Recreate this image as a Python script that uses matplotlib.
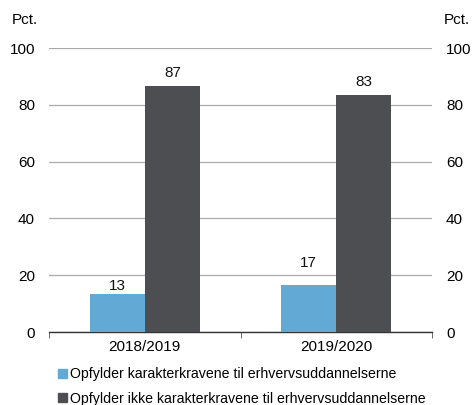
import matplotlib
matplotlib.use("Agg")
import matplotlib.pyplot as plt
import numpy as np
from matplotlib.patches import Patch

plt.rcParams['font.family'] = ['Liberation Sans', 'DejaVu Sans']

categories = ["2018/2019", "2019/2020"]
series_names = ["Opfylder karakterkravene til erhvervsuddannelserne",
                "Opfylder ikke karakterkravene til erhvervsuddannelserne"]
meets = [13.4, 16.6]
not_meets = [86.6, 83.4]
yticks = [0, 20, 40, 60, 80, 100]

c_blue = "#63a9d5"
c_dark = "#4d4e52"

fig = plt.figure(figsize=(4.72, 4.05), dpi=100)
ax = fig.add_axes([49/472, 1-332/405, (432-49)/472, (332-48)/405])

x = np.arange(len(categories))
w = 0.288
b1 = ax.bar(x - w/2, meets, w, color=c_blue, zorder=3)
b2 = ax.bar(x + w/2, not_meets, w, color=c_dark, zorder=3)
label_pad = [[1.0, 10.5], [4.5, 4.5]]
for bars, vals, pads in ((b1, meets, label_pad[0]), (b2, not_meets, label_pad[1])):
    for rect, v, p in zip(bars, vals, pads):
        ax.annotate(f"{v:.0f}", (rect.get_x() + rect.get_width()/2, v),
                    xytext=(0, p), textcoords="offset points",
                    ha="center", va="bottom", fontsize=11, color="#111111")

ax.set_xlim(-0.5, len(categories) - 0.5)
ax.set_ylim(0, 100)
ax.set_yticks(yticks)
for s in ["left", "right", "top"]:
    ax.spines[s].set_visible(False)
ax.spines["bottom"].set_color("#333333")
ax.spines["bottom"].set_linewidth(1.0)
ax.yaxis.grid(True, color="#aaaaaa", linewidth=0.9, zorder=0)
ax.tick_params(axis="y", length=0, labelsize=11, pad=10, labelright=True, labelleft=True)
ax.set_xticks(x)
ax.set_xticklabels(categories, fontsize=11)
ax.tick_params(axis="x", which="major", length=0, pad=6)
ax.set_xticks([-0.5, 0.5, 1.5], minor=True)
ax.tick_params(axis="x", which="minor", length=4, color="#555555", direction="out")

fig.text(12/472, 1-20/405, "Pct.", fontsize=11, va="center", ha="left")
fig.text(444/472, 1-20/405, "Pct.", fontsize=11, va="center", ha="left")

handles = [Patch(color=c_blue), Patch(color=c_dark)]
fig.legend(handles, series_names, loc="upper left", bbox_to_anchor=(51/472, 1-360/405),
           frameon=False, fontsize=10.2, handlelength=0.6, handleheight=0.6,
           handletextpad=0.25, labelspacing=0.75, borderpad=0)

fig.savefig("out.png", dpi=100)
